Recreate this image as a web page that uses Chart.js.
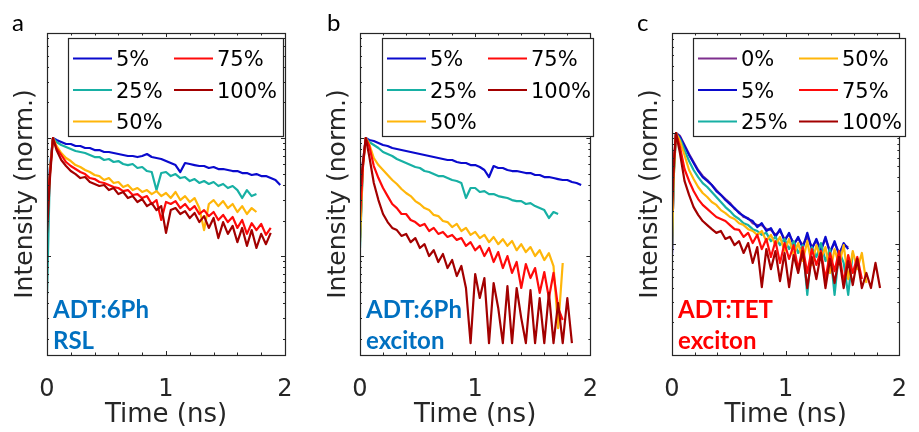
<!DOCTYPE html>
<html>
<head>
<meta charset="utf-8">
<script src="https://cdn.jsdelivr.net/npm/chart.js@4.4.1/dist/chart.umd.min.js"></script>
<style>
  html, body { margin: 0; padding: 0; background: #fff; }
  #wrap { position: relative; width: 919px; height: 432px; }
  .panel { position: absolute; top: 0; height: 432px; }
</style>
</head>
<body>
<div id="wrap">
  <div class="panel" style="left:0;width:305px"><canvas id="chartA" width="305" height="432"></canvas></div>
  <div class="panel" style="left:305px;width:305px"><canvas id="chartB" width="305" height="432"></canvas></div>
  <div class="panel" style="left:610px;width:309px"><canvas id="chartC" width="309" height="432"></canvas></div>
</div>
<script>
// time axis (ns) of panels a and b
const timeAB = [0, 0.025, 0.05,
  0.08, 0.12, 0.16, 0.20, 0.24, 0.28, 0.32, 0.36, 0.40, 0.44, 0.48, 0.52, 0.56, 0.60, 0.64, 0.68,
  0.72, 0.76, 0.80, 0.84, 0.88, 0.92, 0.96, 1.00, 1.04, 1.08, 1.12, 1.16, 1.20, 1.24, 1.28, 1.32,
  1.36, 1.40, 1.44, 1.48, 1.52, 1.56, 1.60, 1.64, 1.68, 1.72, 1.76, 1.80, 1.84, 1.88, 1.92, 1.96];
// time axis (ns) of panel c
const timeC = [0, 0.015, 0.035,
  0.07, 0.11, 0.15, 0.19, 0.23, 0.27, 0.31, 0.35, 0.39, 0.43, 0.47, 0.51, 0.55, 0.59, 0.63, 0.67,
  0.71, 0.75, 0.79, 0.83, 0.87, 0.91, 0.95, 0.99, 1.03, 1.07, 1.11, 1.15, 1.19, 1.23, 1.27, 1.31,
  1.35, 1.39, 1.43, 1.47, 1.51, 1.55, 1.59, 1.63, 1.67, 1.71, 1.75, 1.79, 1.83];

// a: ADT:6Ph RSL, normalized intensity
const a5 = [0.21, 0.557, 1, 0.962, 0.925, 0.890, 0.890, 0.856, 0.856, 0.823, 0.823, 0.791, 0.791, 0.761, 0.761, 0.746, 0.732, 0.718, 0.704, 0.704, 0.690, 0.704, 0.732, 0.690, 0.677, 0.664, 0.638, 0.614, 0.590, 0.515, 0.614, 0.602, 0.590, 0.579, 0.579, 0.557, 0.568, 0.546, 0.546, 0.536, 0.525, 0.525, 0.505, 0.505, 0.486, 0.495, 0.476, 0.476, 0.458, 0.441, 0.400];
const a25 = [0.0469, 0.557, 1, 0.925, 0.873, 0.839, 0.807, 0.776, 0.761, 0.746, 0.718, 0.690, 0.690, 0.651, 0.664, 0.626, 0.638, 0.602, 0.590, 0.602, 0.557, 0.568, 0.525, 0.515, 0.362, 0.505, 0.515, 0.476, 0.495, 0.458, 0.467, 0.432, 0.449, 0.416, 0.432, 0.408, 0.424, 0.392, 0.408, 0.377, 0.392, 0.362, 0.310, 0.362, 0.322, 0.335];
const a50 = [0.202, 0.505, 1, 0.856, 0.746, 0.677, 0.638, 0.590, 0.568, 0.536, 0.515, 0.486, 0.476, 0.441, 0.458, 0.416, 0.424, 0.384, 0.400, 0.362, 0.377, 0.349, 0.362, 0.335, 0.355, 0.322, 0.342, 0.310, 0.349, 0.298, 0.322, 0.287, 0.310, 0.255, 0.166, 0.276, 0.298, 0.265, 0.292, 0.255, 0.276, 0.236, 0.265, 0.227, 0.255, 0.236];
const a75 = [0.260, 0.505, 1, 0.823, 0.718, 0.626, 0.579, 0.546, 0.515, 0.495, 0.458, 0.449, 0.424, 0.416, 0.400, 0.384, 0.377, 0.355, 0.362, 0.329, 0.335, 0.310, 0.322, 0.276, 0.298, 0.202, 0.287, 0.276, 0.292, 0.255, 0.276, 0.245, 0.265, 0.227, 0.245, 0.218, 0.236, 0.202, 0.223, 0.194, 0.214, 0.173, 0.202, 0.154, 0.190, 0.166, 0.187, 0.151, 0.173];
const a100 = [0.157, 0.458, 1, 0.791, 0.651, 0.579, 0.525, 0.495, 0.458, 0.467, 0.424, 0.408, 0.392, 0.400, 0.362, 0.377, 0.335, 0.349, 0.310, 0.322, 0.287, 0.304, 0.265, 0.281, 0.245, 0.265, 0.157, 0.245, 0.255, 0.227, 0.240, 0.210, 0.232, 0.194, 0.218, 0.173, 0.210, 0.142, 0.194, 0.154, 0.180, 0.131, 0.173, 0.122, 0.166, 0.117, 0.154, 0.126, 0.157];

// b: ADT:6Ph exciton
const b5 = [0.142, 0.614, 1, 0.962, 0.943, 0.907, 0.873, 0.856, 0.823, 0.807, 0.791, 0.776, 0.761, 0.746, 0.732, 0.718, 0.704, 0.690, 0.677, 0.664, 0.651, 0.651, 0.626, 0.614, 0.614, 0.590, 0.590, 0.568, 0.536, 0.467, 0.579, 0.557, 0.557, 0.536, 0.525, 0.525, 0.515, 0.505, 0.505, 0.486, 0.486, 0.467, 0.467, 0.458, 0.449, 0.441, 0.441, 0.424, 0.416, 0.400];
const b25 = [0.117, 0.579, 1, 0.925, 0.873, 0.823, 0.761, 0.732, 0.704, 0.664, 0.638, 0.614, 0.590, 0.568, 0.557, 0.525, 0.515, 0.495, 0.476, 0.476, 0.458, 0.441, 0.432, 0.416, 0.310, 0.377, 0.377, 0.349, 0.355, 0.335, 0.335, 0.322, 0.316, 0.310, 0.298, 0.292, 0.292, 0.276, 0.281, 0.265, 0.255, 0.245, 0.210, 0.236, 0.227];
const b50 = [0.131, 0.579, 1, 0.890, 0.677, 0.590, 0.536, 0.486, 0.441, 0.408, 0.370, 0.342, 0.322, 0.292, 0.276, 0.255, 0.245, 0.223, 0.218, 0.198, 0.194, 0.176, 0.187, 0.163, 0.173, 0.151, 0.160, 0.142, 0.151, 0.131, 0.145, 0.126, 0.139, 0.122, 0.134, 0.112, 0.126, 0.108, 0.119, 0.100, 0.112, 0.0925, 0.106, 0.0823, 0.0245, 0.0873];
const b75 = [0.214, 0.557, 1, 0.856, 0.579, 0.458, 0.377, 0.322, 0.276, 0.255, 0.227, 0.227, 0.202, 0.194, 0.180, 0.187, 0.163, 0.173, 0.154, 0.160, 0.145, 0.151, 0.137, 0.142, 0.122, 0.131, 0.112, 0.122, 0.100, 0.117, 0.0890, 0.108, 0.0791, 0.100, 0.0719, 0.0890, 0.0536, 0.0856, 0.0651, 0.0791, 0.0487, 0.0732, 0.0441, 0.0719, 0.0363, 0.0287];
const b100 = [0.349, 0.614, 1, 0.704, 0.416, 0.298, 0.227, 0.194, 0.173, 0.166, 0.148, 0.154, 0.131, 0.142, 0.117, 0.126, 0.100, 0.112, 0.0890, 0.104, 0.0791, 0.0925, 0.0677, 0.0823, 0.0536, 0.0183, 0.0704, 0.0441, 0.0651, 0.0183, 0.0591, 0.0363, 0.0183, 0.0557, 0.0183, 0.0536, 0.0298, 0.0183, 0.0515, 0.0183, 0.0441, 0.0183, 0.0487, 0.0183, 0.0400, 0.0183, 0.0441, 0.0183];

// c: ADT:TET exciton
const c0 = [0.083, 0.436, 1, 0.940, 0.780, 0.647, 0.548, 0.464, 0.410, 0.377, 0.340, 0.306, 0.277, 0.254, 0.234, 0.207, 0.194, 0.175, 0.171, 0.154, 0.148, 0.148, 0.136, 0.134, 0.121, 0.131, 0.111, 0.121, 0.102, 0.111, 0.0977, 0.116, 0.0937, 0.106, 0.0900, 0.111, 0.0864, 0.102, 0.0830, 0.0977, 0.0937];
const c5 = [0.0796, 0.436, 1, 0.920, 0.764, 0.634, 0.537, 0.455, 0.401, 0.370, 0.340, 0.300, 0.277, 0.249, 0.229, 0.211, 0.190, 0.179, 0.168, 0.161, 0.142, 0.154, 0.131, 0.139, 0.116, 0.136, 0.106, 0.126, 0.0977, 0.116, 0.0920, 0.126, 0.0900, 0.111, 0.0864, 0.116, 0.0830, 0.106, 0.0796, 0.102, 0.0900];
const c25 = [0.092, 0.393, 1, 0.883, 0.703, 0.559, 0.464, 0.401, 0.354, 0.326, 0.294, 0.265, 0.239, 0.215, 0.198, 0.179, 0.168, 0.154, 0.148, 0.136, 0.131, 0.121, 0.126, 0.106, 0.116, 0.0977, 0.111, 0.0900, 0.106, 0.0830, 0.0977, 0.0348, 0.0937, 0.0764, 0.102, 0.0703, 0.0900, 0.0348, 0.0864, 0.0675, 0.0348, 0.0830];
const c50 = [0.0937, 0.393, 1, 0.847, 0.634, 0.464, 0.385, 0.326, 0.288, 0.265, 0.239, 0.225, 0.202, 0.190, 0.175, 0.168, 0.154, 0.148, 0.136, 0.131, 0.121, 0.131, 0.106, 0.121, 0.0977, 0.116, 0.0864, 0.111, 0.0796, 0.102, 0.0703, 0.106, 0.0648, 0.0977, 0.0733, 0.0937, 0.0548, 0.0900, 0.0648, 0.0977, 0.0483, 0.0864, 0.0594, 0.0830, 0.0445];
const c75 = [0.249, 0.537, 1, 0.748, 0.474, 0.370, 0.300, 0.254, 0.225, 0.207, 0.190, 0.175, 0.168, 0.161, 0.148, 0.136, 0.134, 0.116, 0.126, 0.102, 0.121, 0.0900, 0.111, 0.0764, 0.106, 0.0675, 0.102, 0.0733, 0.0977, 0.0594, 0.0937, 0.0548, 0.0900, 0.0648, 0.0864, 0.0483, 0.0830, 0.0570, 0.0864, 0.0445, 0.0796, 0.0548, 0.0764, 0.0483];
const c100 = [0.190, 0.484, 1, 0.661, 0.370, 0.277, 0.215, 0.183, 0.161, 0.148, 0.136, 0.126, 0.131, 0.111, 0.116, 0.0977, 0.106, 0.0830, 0.102, 0.0675, 0.0937, 0.0409, 0.0900, 0.0594, 0.0864, 0.0463, 0.0830, 0.0409, 0.0796, 0.0548, 0.0864, 0.0401, 0.0764, 0.0483, 0.0830, 0.0401, 0.0733, 0.0445, 0.0764, 0.0401, 0.0703, 0.0427, 0.0733, 0.0401, 0.0548, 0.0401, 0.0675, 0.0401];

const xTickLabels = [0, 1, 2];
const xMinorTicks = [0.2, 0.4, 0.6, 0.8, 1.2, 1.4, 1.6, 1.8];
const yDecades = [0.01, 0.1, 1];
const yMinorSteps = [2, 3, 4, 5, 6, 7, 8, 9];

const colors = {
    '0%': '#7E2F8E',
    '5%': '#0A0ACD',
    '25%': '#17B0A4',
    '50%': '#FFB60A',
    '75%': '#FF0A0A',
    '100%': '#A30000',
};

const axisColor = '#262626';
const axisFont = 'DejaVu Sans';
const noteFont = 'Lato';

const panelDecor = {
    id: 'panelDecor',
    beforeDraw(chart) {
        const ctx = chart.ctx;
        ctx.save();
        ctx.fillStyle = '#fff';
        ctx.fillRect(0, 0, chart.width, chart.height);
        ctx.restore();
    },
    afterDatasetsDraw(chart, args, opts) {
        const { ctx, chartArea: a } = chart;
        const x = chart.scales.x;
        const y = chart.scales.y;
        ctx.save();

        // frame
        ctx.strokeStyle = axisColor;
        ctx.lineWidth = 1.2;
        ctx.strokeRect(Math.round(a.left) + 0.5, Math.round(a.top) + 0.5,
            Math.round(a.right - a.left), Math.round(a.bottom - a.top));

        // inner tick marks, top/bottom and left/right
        ctx.lineWidth = 1;
        ctx.beginPath();
        const xTick = (v, len) => {
            const px = Math.round(x.getPixelForValue(v)) + 0.5;
            ctx.moveTo(px, a.bottom); ctx.lineTo(px, a.bottom - len);
            ctx.moveTo(px, a.top); ctx.lineTo(px, a.top + len);
        };
        const yTick = (v, len) => {
            if (v < y.min || v > y.max) return;
            const py = Math.round(y.getPixelForValue(v)) + 0.5;
            ctx.moveTo(a.left, py); ctx.lineTo(a.left + len, py);
            ctx.moveTo(a.right, py); ctx.lineTo(a.right - len, py);
        };
        xTickLabels.forEach(v => xTick(v, 4));
        xMinorTicks.forEach(v => xTick(v, 2.5));
        yDecades.forEach(d => {
            yTick(d, 4);
            yMinorSteps.forEach(m => yTick(d * m, 2));
        });
        ctx.stroke();

        // legend box, column-major like MATLAB
        const lg = opts.legend;
        const lx = a.left + lg.left;
        const ly = 38;
        ctx.fillStyle = '#fff';
        ctx.fillRect(lx, ly, lg.width, 98);
        ctx.strokeStyle = axisColor;
        ctx.lineWidth = 1.2;
        ctx.strokeRect(lx + 0.5, ly + 0.5, lg.width, 98);
        ctx.font = '21px "' + axisFont + '"';
        ctx.textBaseline = 'alphabetic';
        ctx.textAlign = 'left';
        chart.data.datasets.forEach((ds, i) => {
            const col = Math.floor(i / 3);
            const row = i % 3;
            const x0 = lx + 5 + col * 101;
            const yy = ly + 20.5 + row * 31.5;
            ctx.strokeStyle = ds.borderColor;
            ctx.lineWidth = 1.8;
            ctx.beginPath();
            ctx.moveTo(x0, yy);
            ctx.lineTo(x0 + 39, yy);
            ctx.stroke();
            ctx.fillStyle = '#000';
            ctx.fillText(ds.label, x0 + 43, yy + 7.5);
        });

        // sample notes
        ctx.font = 'bold 24px "' + noteFont + '"';
        ctx.fillStyle = opts.noteColor;
        opts.notes.forEach((t, i) => {
            ctx.fillText(t, a.left + 6, 318 + i * 31);
        });

        // panel letter
        ctx.font = '24px "' + noteFont + '"';
        ctx.fillStyle = '#000';
        ctx.fillText(opts.letter, opts.letterX, 31);
        ctx.restore();
    },
};

function getData(time, series) {
    return {
        datasets: series.map((s, i) => ({
            label: s.label,
            data: s.values.map((v, k) => ({ x: time[k], y: v })),
            borderColor: colors[s.label],
            borderWidth: 2.2,
            borderJoinStyle: 'round',
            pointRadius: 0,
            tension: 0,
            fill: false,
            order: series.length - i, // later series on top
        })),
    };
}

function getConfig(data, yMin, yMax, padLeft, padRight, decor) {
    return {
        type: 'line',
        data: data,
        options: {
            responsive: false,
            animation: false,
            events: [],
            layout: {
                padding: { left: padLeft, right: padRight, top: 33, bottom: 0 },
            },
            plugins: {
                legend: { display: false },
                tooltip: { enabled: false },
                panelDecor: decor,
            },
            scales: {
                x: {
                    type: 'linear',
                    min: 0,
                    max: 2,
                    grid: { display: false },
                    border: { display: false },
                    ticks: {
                        stepSize: 1,
                        padding: 12,
                        color: axisColor,
                        font: { family: axisFont, size: 24 },
                    },
                    title: {
                        display: true,
                        text: 'Time (ns)',
                        color: axisColor,
                        font: { family: axisFont, size: 26 },
                        padding: { top: 0, bottom: 1 },
                    },
                    afterFit(scale) { scale.height = 77; },
                },
                y: {
                    type: 'logarithmic',
                    min: yMin,
                    max: yMax,
                    grid: { display: false },
                    border: { display: false },
                    ticks: { display: false },
                    title: {
                        display: true,
                        text: 'Intensity (norm.)',
                        color: axisColor,
                        font: { family: axisFont, size: 25 },
                        padding: { top: 10, bottom: 0 },
                    },
                    afterFit(scale) { scale.width = 47; },
                },
            },
        },
        plugins: [panelDecor],
    };
}

function drawChart(config, chartId) {
    const curChart = Chart.getChart(chartId);
    if (curChart) {
        curChart.destroy();
    }
    new Chart(document.getElementById(chartId), config);
}

const blueNote = '#0070C0';

drawChart(getConfig(getData(timeAB, [
    { label: '5%', values: a5 },
    { label: '25%', values: a25 },
    { label: '50%', values: a50 },
    { label: '75%', values: a75 },
    { label: '100%', values: a100 },
]), 0.0145, 7.76, 0, 20, {
    letter: 'a', letterX: 12, notes: ['ADT:6Ph', 'RSL'], noteColor: blueNote,
    legend: { left: 21, width: 215 },
}), 'chartA');

drawChart(getConfig(getData(timeAB, [
    { label: '5%', values: b5 },
    { label: '25%', values: b25 },
    { label: '50%', values: b50 },
    { label: '75%', values: b75 },
    { label: '100%', values: b100 },
]), 0.0145, 7.76, 8, 13, {
    letter: 'b', letterX: 22, notes: ['ADT:6Ph', 'exciton'], noteColor: blueNote,
    legend: { left: 22, width: 211 },
}), 'chartB');

drawChart(getConfig(getData(timeC, [
    { label: '0%', values: c0 },
    { label: '5%', values: c5 },
    { label: '25%', values: c25 },
    { label: '50%', values: c50 },
    { label: '75%', values: c75 },
    { label: '100%', values: c100 },
]), 0.01, 7.96, 15, 10, {
    letter: 'c', letterX: 27, notes: ['ADT:TET', 'exciton'], noteColor: '#FF0000',
    legend: { left: 21, width: 212 },
}), 'chartC');
</script>
</body>
</html>
